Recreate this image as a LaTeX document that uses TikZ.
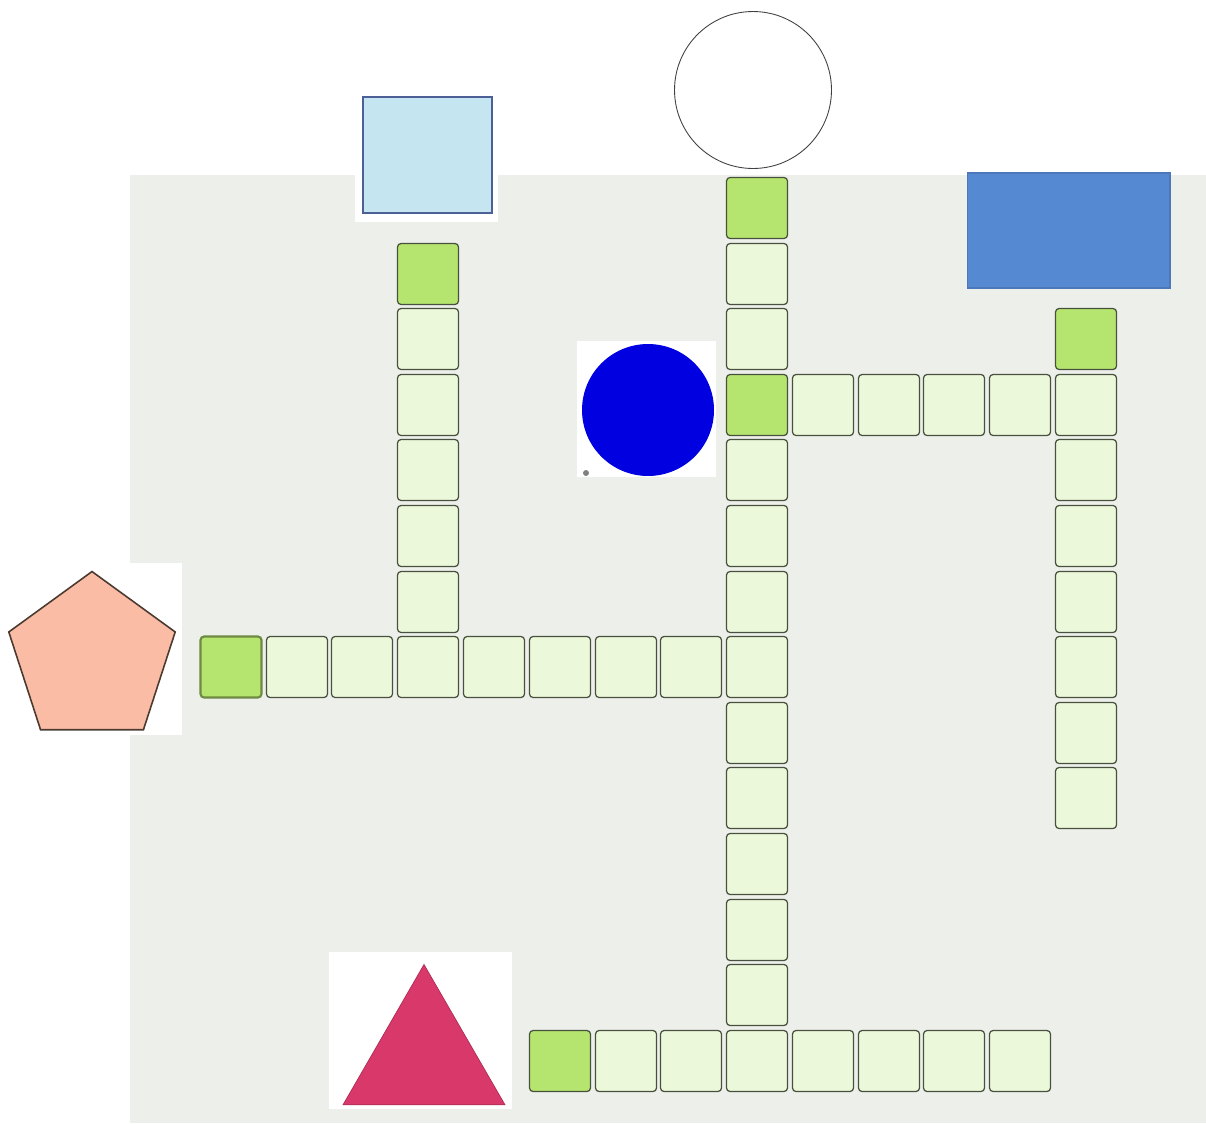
\documentclass[tikz,border=0pt]{standalone}
\usepackage{tikz}
\usetikzlibrary{shapes.geometric}
\usepackage{xcolor}

\definecolor{boardbg}{HTML}{EDF0EA}
\definecolor{lightcell}{HTML}{ECF8DA}
\definecolor{darkcell}{HTML}{B5E56E}
\definecolor{cellline}{HTML}{48503E}
\definecolor{paleblue}{HTML}{C5E5F0}
\definecolor{paleblueline}{HTML}{4C5F96}
\definecolor{midblue}{HTML}{5589D2}
\definecolor{midblueline}{HTML}{4A78BA}
\definecolor{deepblue}{RGB}{0,0,225}
\definecolor{salmon}{HTML}{FBBCA6}
\definecolor{salmonline}{HTML}{4A3A30}
\definecolor{crimson}{HTML}{D8386A}

\begin{document}
\begin{tikzpicture}[
    x=0.02cm, y=-0.02cm,
    cell/.style={draw=cellline, fill=#1, rounded corners=2pt, minimum size=1.22cm, inner sep=0pt, line width=0.7pt},
    cell/.default=lightcell,
    backing/.style={fill=white},
    clue/.style={inner sep=0pt, outer sep=0pt},
]
\useasboundingbox (0,0) rectangle (1206,1123);
\fill[white] (0,0) rectangle (1206,1123);
\fill[boardbg] (130,175) rectangle (1206,1123);

% clue shapes
\fill[backing] (355,90) rectangle (498,222);
\node[clue, draw=paleblueline, fill=paleblue, line width=1.3pt, minimum width=2.58cm, minimum height=2.32cm] (square) at (427.5,155) {};
\node[clue, circle, draw=black!75, line width=0.5pt, minimum size=3.14cm] (ring) at (753,90) {};
\node[clue, draw=midblueline, fill=midblue, line width=0.6pt, minimum width=4.06cm, minimum height=2.3cm] (bar) at (1068.5,230.5) {};
\fill[backing] (577,341) rectangle (716,477);
\node[clue, circle, fill=deepblue, minimum size=2.64cm] (disc) at (648,410) {};
\node[clue, circle, fill=gray, minimum size=0.12cm] (dot) at (586,473) {};
\fill[backing] (0,563) rectangle (182,735);
\node[clue, regular polygon, regular polygon sides=5, draw=salmonline, fill=salmon, line width=0.9pt, minimum size=3.5cm] (penta) at (92,659) {};
\fill[backing] (329,952) rectangle (512,1109);
\node[clue, regular polygon, regular polygon sides=3, draw=crimson!80!black, fill=crimson, line width=0.4pt, minimum size=3.74cm] (tri) at (424,1058) {};

% long column under the ring
\node[cell=darkcell] (c8-0) at (757,208) {};
\node[cell] (c8-1) at (757,274) {};
\node[cell] (c8-2) at (757,339) {};
\node[cell=darkcell] (c8-3) at (757,405) {};
\node[cell] (c8-4) at (757,470) {};
\node[cell] (c8-5) at (757,536) {};
\node[cell] (c8-6) at (757,602) {};
\node[cell] (c8-7) at (757,667) {};
\node[cell] (c8-8) at (757,733) {};
\node[cell] (c8-9) at (757,798) {};
\node[cell] (c8-10) at (757,864) {};
\node[cell] (c8-11) at (757,930) {};
\node[cell] (c8-12) at (757,995) {};
\node[cell] (c8-13) at (757,1061) {};

% column under the square
\node[cell=darkcell] (c3-1) at (428,274) {};
\node[cell] (c3-2) at (428,339) {};
\node[cell] (c3-3) at (428,405) {};
\node[cell] (c3-4) at (428,470) {};
\node[cell] (c3-5) at (428,536) {};
\node[cell] (c3-6) at (428,602) {};

% row beside the pentagon
\node[cell=darkcell, draw=darkcell!60!black, line width=1.2pt] (c0-7) at (231,667) {};
\node[cell] (c1-7) at (297,667) {};
\node[cell] (c2-7) at (362,667) {};
\node[cell] (c3-7) at (428,667) {};
\node[cell] (c4-7) at (494,667) {};
\node[cell] (c5-7) at (560,667) {};
\node[cell] (c6-7) at (626,667) {};
\node[cell] (c7-7) at (691,667) {};

% row beside the disc
\node[cell] (c9-3) at (823,405) {};
\node[cell] (c10-3) at (889,405) {};
\node[cell] (c11-3) at (954,405) {};
\node[cell] (c12-3) at (1020,405) {};

% column under the bar
\node[cell=darkcell] (c13-2) at (1086,339) {};
\node[cell] (c13-3) at (1086,405) {};
\node[cell] (c13-4) at (1086,470) {};
\node[cell] (c13-5) at (1086,536) {};
\node[cell] (c13-6) at (1086,602) {};
\node[cell] (c13-7) at (1086,667) {};
\node[cell] (c13-8) at (1086,733) {};
\node[cell] (c13-9) at (1086,798) {};

% row beside the triangle
\node[cell=darkcell] (c5-13) at (560,1061) {};
\node[cell] (c6-13) at (626,1061) {};
\node[cell] (c7-13) at (691,1061) {};
\node[cell] (c9-13) at (823,1061) {};
\node[cell] (c10-13) at (889,1061) {};
\node[cell] (c11-13) at (954,1061) {};
\node[cell] (c12-13) at (1020,1061) {};

\end{tikzpicture}
\end{document}
